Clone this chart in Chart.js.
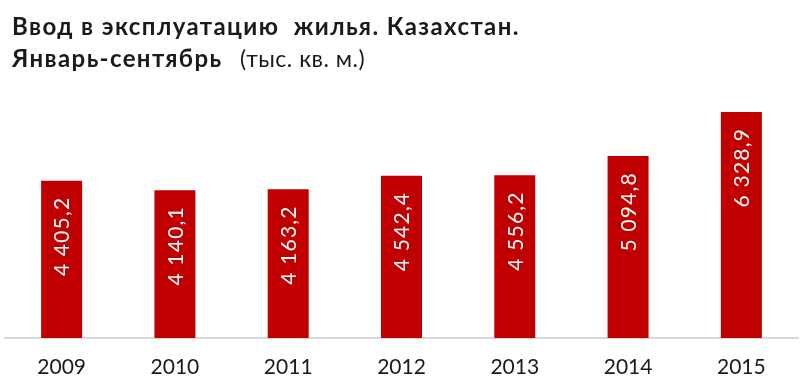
<!DOCTYPE html>
<html>
<head>
<meta charset="utf-8">
<script src="https://cdn.jsdelivr.net/npm/chart.js@4"></script>
<style>
  html, body { margin: 0; padding: 0; background: #fff; }
  #wrap { position: relative; width: 800px; height: 390px; }
</style>
</head>
<body>
<div id="wrap"><canvas id="chart" width="800" height="390"></canvas></div>
<script>
  // Ввод жилья, Казахстан, январь-сентябрь (тыс. кв. м.)
  const years = ['2009', '2010', '2011', '2012', '2013', '2014', '2015'];
  const values = [4405.2, 4140.1, 4163.2, 4542.4, 4556.2, 5094.8, 6328.9];
  const valueLabels = ['4 405,2', '4 140,1', '4 163,2', '4 542,4', '4 556,2', '5 094,8', '6 328,9'];

  const titleLine1 = 'Ввод в эксплуатацию  жилья. Казахстан.';
  const titleLine2Bold = 'Январь-сентябрь';
  const titleLine2Rest = '(тыс. кв. м.)';

  const FONT = 'Lato, "Open Sans", sans-serif';

  // title drawn straight onto the canvas so baselines line up with the reference
  const titlePlugin = {
    id: 'titleText',
    afterDraw(chart) {
      const ctx = chart.ctx;
      ctx.save();
      ctx.fillStyle = '#1a1a1a';
      ctx.textBaseline = 'alphabetic';
      ctx.textAlign = 'left';
      ctx.letterSpacing = '1.4px';
      ctx.font = 'bold 24px ' + FONT;
      ctx.fillText(titleLine1, 12, 35);
      ctx.fillText(titleLine2Bold, 12, 67);
      ctx.letterSpacing = '0.5px';
      ctx.font = '23px ' + FONT;
      ctx.fillText(titleLine2Rest, 240, 67);
      ctx.restore();
    }
  };

  // rotated value labels, reading bottom-to-top, near the top of each bar
  const barLabelPlugin = {
    id: 'barLabels',
    afterDatasetsDraw(chart) {
      const meta = chart.getDatasetMeta(0);
      const ctx = chart.ctx;
      ctx.save();
      ctx.font = '21px ' + FONT;
      ctx.letterSpacing = '1.2px';
      ctx.fillStyle = '#ffffff';
      ctx.textAlign = 'right';
      ctx.textBaseline = 'middle';
      meta.data.forEach((bar, i) => {
        ctx.save();
        ctx.translate(bar.x, bar.y + 16);
        ctx.rotate(-Math.PI / 2);
        ctx.fillText(valueLabels[i], 0, 1);
        ctx.restore();
      });
      ctx.restore();
    }
  };

  new Chart(document.getElementById('chart'), {
    type: 'bar',
    plugins: [titlePlugin, barLabelPlugin],
    data: {
      labels: years,
      datasets: [{
        data: values,
        backgroundColor: '#c00000',
        borderWidth: 0,
        barPercentage: 0.362,
        categoryPercentage: 1.0
      }]
    },
    options: {
      responsive: false,
      animation: false,
      layout: { padding: { top: 88, left: 5, right: 2, bottom: 0 } },
      plugins: {
        legend: { display: false },
        title: { display: false },
        tooltip: { enabled: false }
      },
      scales: {
        x: {
          grid: { display: false, drawTicks: false },
          border: { display: true, color: '#d9d9d9', width: 2 },
          ticks: { color: '#1a1a1a', font: { family: FONT, size: 21 }, padding: 17 },
          afterFit(scale) { scale.height = 52; }
        },
        y: {
          display: false,
          min: 0,
          max: 7000
        }
      }
    }
  });
</script>
</body>
</html>
